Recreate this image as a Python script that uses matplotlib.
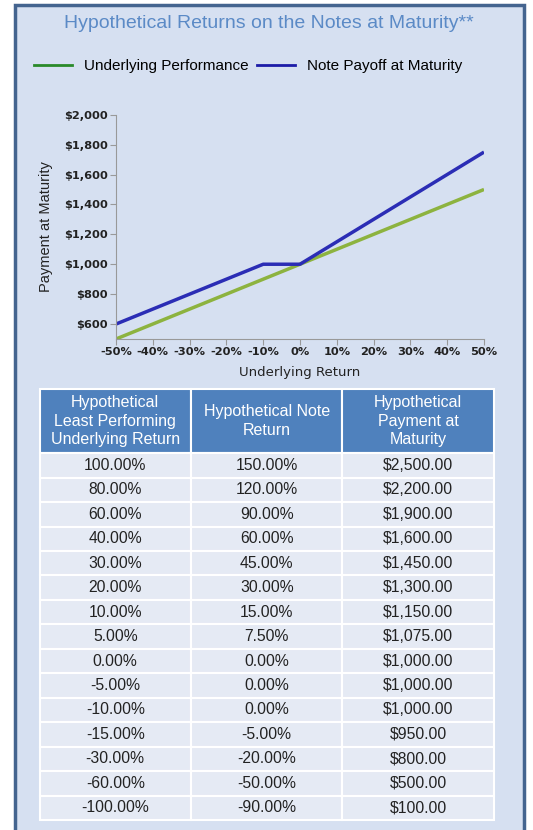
import matplotlib
matplotlib.use("Agg")
import matplotlib.pyplot as plt
from matplotlib.patches import Rectangle
from matplotlib.lines import Line2D

# ---- data ----
under_x = [-50, 50]
under_y = [500, 1500]
note_x = [-50, -10, 0, 50]
note_y = [600, 1000, 1000, 1750]
x_ticks = [-50, -40, -30, -20, -10, 0, 10, 20, 30, 40, 50]
y_ticks = [600, 800, 1000, 1200, 1400, 1600, 1800, 2000]

col_headers = ["Hypothetical\nLeast Performing\nUnderlying Return",
               "Hypothetical Note\nReturn",
               "Hypothetical\nPayment at\nMaturity"]
col_under = ["100.00%", "80.00%", "60.00%", "40.00%", "30.00%", "20.00%", "10.00%",
             "5.00%", "0.00%", "-5.00%", "-10.00%", "-15.00%", "-30.00%", "-60.00%", "-100.00%"]
col_note = ["150.00%", "120.00%", "90.00%", "60.00%", "45.00%", "30.00%", "15.00%",
            "7.50%", "0.00%", "0.00%", "0.00%", "-5.00%", "-20.00%", "-50.00%", "-90.00%"]
col_pay = ["$2,500.00", "$2,200.00", "$1,900.00", "$1,600.00", "$1,450.00", "$1,300.00",
           "$1,150.00", "$1,075.00", "$1,000.00", "$1,000.00", "$1,000.00", "$950.00",
           "$800.00", "$500.00", "$100.00"]

W, H = 533, 830
BG = "#d6e0f1"
fig = plt.figure(figsize=(W / 100, H / 100), dpi=100)
fig.patch.set_facecolor("white")

# background frame axes
bax = fig.add_axes([0, 0, 1, 1], zorder=-5)
bax.set_xlim(0, W)
bax.set_ylim(H, 0)
bax.axis("off")
bax.add_patch(Rectangle((15, 5), 509, H + 10, facecolor=BG,
                        edgecolor="#44648f", linewidth=2.5))

fig.text(269 / W, 1 - 23 / H, "Hypothetical Returns on the Notes at Maturity**",
         ha="center", va="center", fontsize=14, color="#5b8ac6",
         family="Liberation Sans")

ax = fig.add_axes([116 / W, 1 - 339 / H, (484 - 116) / W, (339 - 114.7) / H])
ax.set_facecolor(BG)
ax.plot(under_x, under_y, color="#8db33f", linewidth=2.5, solid_capstyle="butt")
ax.plot(note_x, note_y, color="#2b2db5", linewidth=2.5, solid_capstyle="butt")
ax.set_xlim(-50, 50)
ax.set_ylim(500, 2000)
ax.set_xticks(x_ticks)
ax.set_xticklabels([f"{t}%" for t in x_ticks], fontweight="bold", fontsize=8.2, color="#222")
ax.set_yticks(y_ticks)
ax.set_yticklabels([f"${t:,}" for t in y_ticks], fontweight="bold", fontsize=8.2, color="#222")
for s in ["top", "right"]:
    ax.spines[s].set_visible(False)
for s in ["left", "bottom"]:
    ax.spines[s].set_color("#999999")
ax.tick_params(length=4, color="#999999", pad=2)
ax.set_xlabel("Underlying Return", fontsize=9.5, color="#222", labelpad=6)
ax.set_ylabel("Payment at Maturity", fontsize=10.5, color="#222",
              family="Liberation Sans", labelpad=8)

leg_handles = [Line2D([], [], color="#2a8a2a", linewidth=2),
               Line2D([], [], color="#1c1ca8", linewidth=2)]
fig.legend(leg_handles, ["Underlying Performance", "Note Payoff at Maturity"],
           loc="center", bbox_to_anchor=(248 / W, 1 - 66 / H), ncol=2, frameon=False,
           prop={"family": "Liberation Sans", "size": 11}, handlelength=2.5,
           columnspacing=0.5, handletextpad=0.8)

# table
tax = fig.add_axes([39.5 / W, 1 - 820 / H, (494 - 39.5) / W, (820 - 389) / H])
tax.axis("off")
rows = [[a, b, c] for a, b, c in zip(col_under, col_note, col_pay)]
tbl = tax.table(cellText=rows, colLabels=col_headers, cellLoc="center",
                loc="center", bbox=[0, 0, 1, 1])
tbl.auto_set_font_size(False)
total = 64 + 24.4 * len(rows)
for (r, c), cell in tbl.get_celld().items():
    cell.set_edgecolor("white")
    cell.set_linewidth(1.5)
    t = cell.get_text()
    t.set_family("Liberation Sans")
    t.set_fontsize(11.3)
    if r == 0:
        cell.set_facecolor("#4f81bd")
        t.set_color("white")
        t.set_fontsize(11.5)
        t.set_linespacing(1.32)
        cell.set_height(64 / total)
        t.set_va("center")
    else:
        cell.set_facecolor("#e5eaf4")
        t.set_color("#222222")
        cell.set_height(24.4 / total)

fig.savefig("out.png", dpi=100, facecolor=fig.get_facecolor())
